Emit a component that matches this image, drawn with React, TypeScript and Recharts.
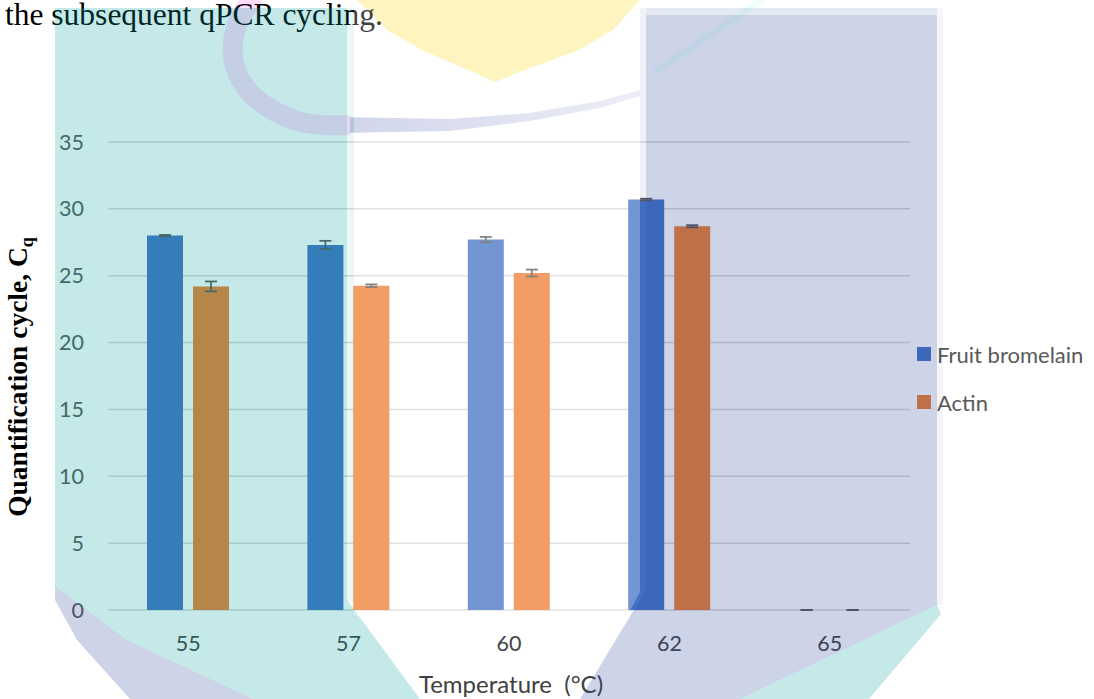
import { Bar, BarChart, CartesianGrid, ErrorBar, XAxis, YAxis } from "recharts";

// annealing temperature (°C) on the category axis
const temperatures = ["55", "57", "60", "62", "65"];

// mean Cq and spread per temperature
const bromelainCq = [28.0, 27.3, 27.7, 30.7, 0];
const bromelainSd = [0.05, 0.31, 0.2, 0.06, 0];
const actinCq = [24.2, 24.25, 25.2, 28.7, 0];
const actinSd = [0.37, 0.1, 0.26, 0.08, 0];

const cqTicks = [0, 5, 10, 15, 20, 25, 30, 35];
const seriesNames = ["Fruit bromelain", "Actin"];
const seriesColors = ["#4472C4", "#ED7D31"];

// error bars given as [minus, plus] so a zero spread still draws its cap
const data = temperatures.map((temp, i) => ({
  temp,
  bromelain: bromelainCq[i],
  bromelainErr: [bromelainSd[i], bromelainSd[i]],
  actin: actinCq[i],
  actinErr: [actinSd[i], actinSd[i]],
}));

const W = 1094;
const H = 699;
const sans = "Lato, 'Open Sans', sans-serif";
const serif = "'Liberation Serif', 'Times New Roman', serif";
const yTickStyle = { fontSize: 21.5, fill: "#595959", fontFamily: sans };
const xTickStyle = { fontSize: 21.5, fill: "#444444", fontFamily: sans };

const layer: React.CSSProperties = { position: "absolute", left: 0, top: 0 };

const tailPoints =
  "330,117 450,119 530,113 600,101 640,90 640,96 600,108 530,121 450,131 330,133";

function Backdrop() {
  return (
    <svg width={W} height={H} style={layer}>
      <defs>
        <clipPath id="leftSide">
          <rect x={0} y={0} width={350} height={H} />
        </clipPath>
        <clipPath id="rightSide">
          <rect x={350} y={0} width={W - 350} height={H} />
        </clipPath>
        <linearGradient id="tailFade" x1="350" y1="0" x2="640" y2="0" gradientUnits="userSpaceOnUse">
          <stop offset="0" stopColor="#c3c8e4" />
          <stop offset="1" stopColor="#e6e8f4" />
        </linearGradient>
      </defs>
      <polygon
        points="357,0 640,0 613,30 579,50 525,70 495,82 468,70 422,50 387,30"
        fill="#fcf1ab"
      />
      <g clipPath="url(#leftSide)">
        <path
          d="M 256 -4 C 222 30, 216 95, 300 122 C 320 126, 335 126, 350 125"
          stroke="#ffdcfa"
          strokeWidth={20}
          fill="none"
        />
        <polygon points={tailPoints} fill="#ffdcfa" />
      </g>
      <g clipPath="url(#rightSide)">
        <polygon points={tailPoints} fill="url(#tailFade)" />
      </g>
      <line x1={762} y1={0} x2={655} y2={72} stroke="#eefffc" strokeWidth={7} />
    </svg>
  );
}

function Titles() {
  return (
    <svg width={W} height={H} style={layer}>
      <text x={5} y={25} fontFamily={serif} fontSize={31.5} fill="#000">
        the subsequent qPCR cycling.
      </text>
      <text
        x={27}
        y={377}
        transform="rotate(-90, 27, 377)"
        textAnchor="middle"
        fontFamily={serif}
        fontWeight="bold"
        fontSize={27.5}
        fill="#000"
      >
        Quantification cycle, C
        <tspan fontSize={18} dy={6}>q</tspan>
      </text>
      <text
        x={511}
        y={693}
        textAnchor="middle"
        fontFamily={sans}
        fontSize={24}
        fill="#404040"
        style={{ whiteSpace: "pre" }}
      >
        {"Temperature  (°C)"}
      </text>
    </svg>
  );
}

function LegendBox() {
  return (
    <div style={{ ...layer, left: 917, top: 340 }}>
      {seriesNames.map((name, i) => (
        <div
          key={name}
          style={{ display: "flex", alignItems: "center", height: 28, marginBottom: 20 }}
        >
          <span style={{ width: 14, height: 14, background: seriesColors[i], marginRight: 6 }} />
          <span style={{ fontFamily: sans, fontSize: 22, color: "#595959", whiteSpace: "nowrap" }}>
            {name}
          </span>
        </div>
      ))}
    </div>
  );
}

// translucent logo blocks laid over the whole figure
function Watermark() {
  return (
    <svg width={W} height={H} style={{ ...layer, pointerEvents: "none" }}>
      <polygon points="55,8 347,8 347,600 420,699 253,699 127,640 55,586" fill="#00a09c" fillOpacity={0.23} />
      <rect x={347} y={8} width={7} height={594} fill="#00a09c" fillOpacity={0.08} />
      <polygon points="55,586 127,640 253,699 130,699 77,640 55,600" fill="#27469d" fillOpacity={0.23} />
      <polygon points="354,0 640,0 640,592 627,616 354,616" fill="#ffffff" fillOpacity={0.25} />
      <rect x={646} y={8} width={291} height={7} fill="#27469d" fillOpacity={0.12} />
      <polygon points="646,15 937,15 937,605 740,699 580,699 646,590" fill="#27469d" fillOpacity={0.23} />
      <rect x={640} y={8} width={6} height={584} fill="#27469d" fillOpacity={0.07} />
      <rect x={937} y={8} width={6} height={597} fill="#27469d" fillOpacity={0.05} />
      <polygon points="937,605 941,614 869,699 740,699" fill="#00a09c" fillOpacity={0.23} />
    </svg>
  );
}

export default function App() {
  return (
    <div style={{ ...layer, width: W, height: H, overflow: "hidden", background: "#fff" }}>
      <Backdrop />
      <Titles />
      <div style={layer}>
        <BarChart
          width={W}
          height={H}
          data={data}
          margin={{ top: 142, right: 184, bottom: 29, left: 60 }}
          barSize={36}
          barGap={10}
        >
          <CartesianGrid vertical={false} stroke="#d9d9d9" strokeWidth={1.5} />
          <XAxis
            dataKey="temp"
            height={60}
            axisLine={false}
            tickLine={false}
            tickSize={0}
            tickMargin={26}
            interval={0}
            tick={xTickStyle}
          />
          <YAxis
            domain={[0, 35]}
            ticks={cqTicks}
            width={48}
            axisLine={false}
            tickLine={false}
            tickSize={0}
            tickMargin={24}
            tick={yTickStyle}
          />
          <Bar dataKey="bromelain" fill={seriesColors[0]} minPointSize={0.01} isAnimationActive={false}>
            <ErrorBar
              dataKey="bromelainErr"
              direction="y"
              width={6}
              stroke="#595959"
              strokeWidth={1.75}
              isAnimationActive={false}
            />
          </Bar>
          <Bar dataKey="actin" fill={seriesColors[1]} minPointSize={0.01} isAnimationActive={false}>
            <ErrorBar
              dataKey="actinErr"
              direction="y"
              width={6}
              stroke="#595959"
              strokeWidth={1.75}
              isAnimationActive={false}
            />
          </Bar>
        </BarChart>
      </div>
      <LegendBox />
      <Watermark />
    </div>
  );
}
